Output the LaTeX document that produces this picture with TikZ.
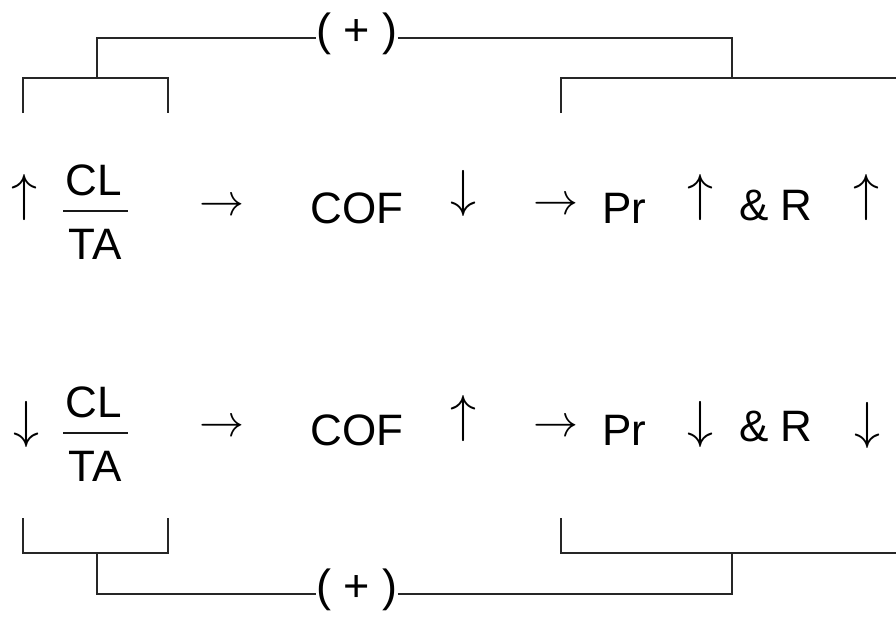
\RequirePackage{fix-cm}
\documentclass[tikz,border=0pt]{standalone}
\usepackage{fontspec}
\setmainfont{Liberation Sans}
\begin{document}
\begin{tikzpicture}[x=1pt,y=-1pt,
  txt/.style={font=\fontsize{44}{50}\selectfont, inner sep=0pt, anchor=base},
  vArrow/.style={font=\fontsize{52}{56}\selectfont, inner sep=0pt},
  hArrow/.style={font=\fontsize{45}{50}\selectfont, inner sep=0pt},
  plusnode/.style={font=\fontsize{45}{50}\selectfont, inner sep=0pt},
  bracket/.style={line width=2.8pt, color=black!85},
  fracbar/.style={line width=2.6pt, color=black!90}]
\useasboundingbox (0,0) rectangle (896,619);

% ---- upper row: rising current-liability ratio ----
\node[vArrow] (u1) at (25,197) {$\uparrow$};
\node[txt] (cl1) at (94,195) {CL};
\node[txt] (ta1) at (95,259) {TA};
\coordinate (b1l) at (63,211);
\coordinate (b1r) at (128,211);
\draw[fracbar] (b1l) -- (b1r);
\node[hArrow] (r1) at (222,207) {$\rightarrow$};
\node[txt] (cof1) at (357,223) {COF};
\node[vArrow] (d1) at (463,193) {$\downarrow$};
\node[hArrow] (r2) at (556,206) {$\rightarrow$};
\node[txt] (pr1) at (624,223) {Pr};
\node[vArrow] (u2) at (700,197) {$\uparrow$};
\node[txt] (rr1) at (776,220) {\& R};
\node[vArrow] (u3) at (866,197) {$\uparrow$};

% ---- lower row: falling current-liability ratio ----
\node[vArrow] (d2) at (26,424) {$\downarrow$};
\node[txt] (cl2) at (94,417) {CL};
\node[txt] (ta2) at (95,481) {TA};
\coordinate (b2l) at (63,433);
\coordinate (b2r) at (128,433);
\draw[fracbar] (b2l) -- (b2r);
\node[hArrow] (r3) at (222,428) {$\rightarrow$};
\node[txt] (cof2) at (357,445) {COF};
\node[vArrow] (u4) at (463,418) {$\uparrow$};
\node[hArrow] (r4) at (556,428) {$\rightarrow$};
\node[txt] (pr2) at (624,445) {Pr};
\node[vArrow] (d3) at (700,424) {$\downarrow$};
\node[txt] (rr2) at (776,441) {\& R};
\node[vArrow] (d4) at (867,425) {$\downarrow$};

% ---- top bracket linking the two groups ----
\node[plusnode] (ptop) at (357,34) {( + )};
\coordinate (tll) at (23,113);
\coordinate (tlr) at (168,113);
\coordinate (tlm) at (97,78);
\coordinate (tlt) at (97,38);
\coordinate (trl) at (561,113);
\coordinate (trm) at (732,78);
\coordinate (trt) at (732,38);
\coordinate (tre) at (896,78);
\draw[bracket] (tll) |- (tlr |- tlm) -- (tlr);
\draw[bracket] (tlm) -- (tlt) -- (ptop.west |- tlt);
\draw[bracket] (ptop.east |- trt) -- (trt) -- (trm);
\draw[bracket] (trl) |- (tre);

% ---- bottom bracket linking the two groups ----
\node[plusnode] (pbot) at (357,590) {( + )};
\coordinate (bll) at (23,518);
\coordinate (blr) at (168,518);
\coordinate (blm) at (97,553);
\coordinate (blb) at (97,594);
\coordinate (brl) at (561,518);
\coordinate (brm) at (732,553);
\coordinate (brb) at (732,594);
\coordinate (bre) at (896,553);
\draw[bracket] (bll) |- (blr |- blm) -- (blr);
\draw[bracket] (blm) -- (blb) -- (pbot.west |- blb);
\draw[bracket] (pbot.east |- brb) -- (brb) -- (brm);
\draw[bracket] (brl) |- (bre);
\end{tikzpicture}
\end{document}
